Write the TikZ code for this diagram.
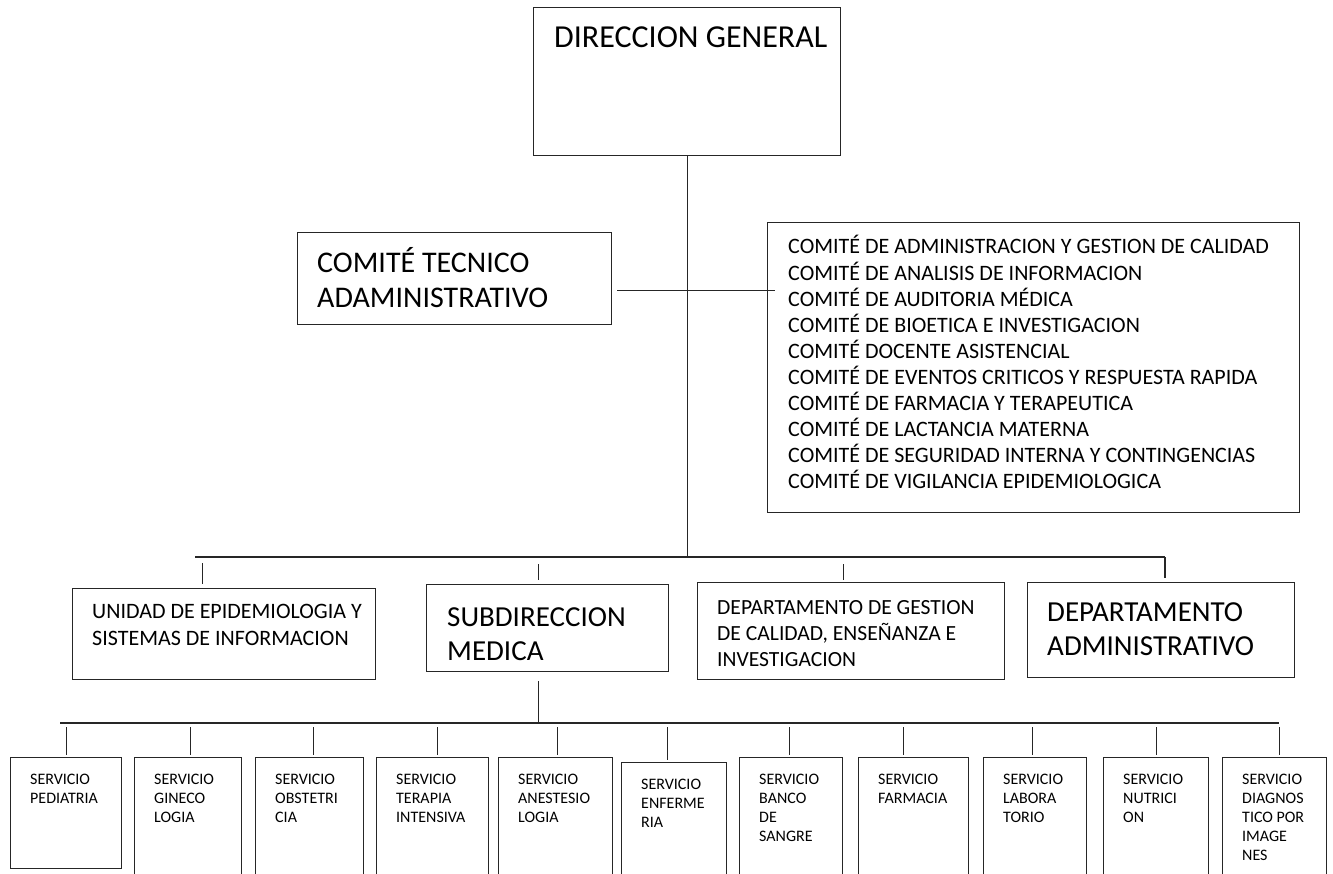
\documentclass[tikz,border=0pt]{standalone}
\usepackage{fontspec}
\setmainfont{Carlito}

\tikzset{
	box/.style={draw=black!85, line width=1.1pt, inner sep=0pt, anchor=north west},
	lbl/.style={anchor=north west, inner sep=0pt, align=left},
	link/.style={draw=black!85, line width=1.1pt}
}

\begin{document}
\begin{tikzpicture}[x=1pt, y=-1pt]
		\useasboundingbox (0,0) rectangle (1333,873);
		
		% direccion y comites
		\node[box, minimum width=307pt, minimum height=148pt] (dir) at (533,7) {};
		\node[lbl, font=\fontsize{32}{38}\selectfont] (dir-t) at ([shift={(21,14)}]dir.north west) {\strut DIRECCION GENERAL};
		
		\node[box, minimum width=314pt, minimum height=92pt] (cta) at (297,232) {};
		\node[lbl, font=\fontsize{30}{35}\selectfont] (cta-t) at ([shift={(20,15)}]cta.north west)
			{\strut COMITÉ TECNICO\\ADAMINISTRATIVO};
		
		\node[box, minimum width=532pt, minimum height=290pt] (com) at (767,222) {};
		\node[lbl, font=\fontsize{22}{26}\selectfont] (com-t) at ([shift={(21,13)}]com.north west)
			{\strut COMITÉ DE ADMINISTRACION Y GESTION DE CALIDAD\\
			COMITÉ DE ANALISIS DE INFORMACION\\
			COMITÉ DE AUDITORIA MÉDICA\\
			COMITÉ DE BIOETICA E INVESTIGACION\\
			COMITÉ DOCENTE ASISTENCIAL\\
			COMITÉ DE EVENTOS CRITICOS Y RESPUESTA RAPIDA\\
			COMITÉ DE FARMACIA Y TERAPEUTICA\\
			COMITÉ DE LACTANCIA MATERNA\\
			COMITÉ DE SEGURIDAD INTERNA Y CONTINGENCIAS\\
			COMITÉ DE VIGILANCIA EPIDEMIOLOGICA};
		
		% segundo nivel
		\node[box, minimum width=303pt, minimum height=91pt] (uni) at (72,588) {};
		\node[lbl, font=\fontsize{22}{27}\selectfont] (uni-t) at ([shift={(20,11)}]uni.north west)
			{\strut UNIDAD DE EPIDEMIOLOGIA Y\\SISTEMAS DE INFORMACION};
		\node[box, minimum width=242pt, minimum height=87pt] (sub) at (426,584) {};
		\node[lbl, font=\fontsize{29}{34}\selectfont] (sub-t) at ([shift={(21,18.5)}]sub.north west)
			{\strut SUBDIRECCION\\MEDICA};
		\node[box, minimum width=307pt, minimum height=97pt] (dge) at (697,582) {};
		\node[lbl, font=\fontsize{21.6}{26}\selectfont] (dge-t) at ([shift={(20,13.6)}]dge.north west)
			{\strut DEPARTAMENTO DE GESTION\\DE CALIDAD, ENSEÑANZA E\\INVESTIGACION};
		\node[box, minimum width=267pt, minimum height=95pt] (dad) at (1027,582) {};
		\node[lbl, font=\fontsize{29}{34}\selectfont] (dad-t) at ([shift={(20,15)}]dad.north west)
			{\strut DEPARTAMENTO\\ADMINISTRATIVO};
		
		\coordinate (busA-l) at (195,557);
		\coordinate (busA-r) at (1165,557);
		\coordinate (busB-l) at (60,723);
		\coordinate (busB-r) at (1279,723);
		
		\draw[link] (dir.south) -- (dir.south |- busA-l);
		\draw[link, shorten <=5pt, shorten >=-8pt] ([yshift=-12pt]cta.east) -- ([yshift=-12pt]cta.east -| com.west);
		\draw[link] (busA-l) -- (busA-r);
		\draw[link, shorten <=6pt, shorten >=4pt] ([xshift=-21.5pt]uni.north |- busA-l) -- ([xshift=-21.5pt]uni.north);
		\draw[link, shorten <=7pt, shorten >=4pt] ([xshift=-9pt]sub.north |- busA-l) -- ([xshift=-9pt]sub.north);
		\draw[link, shorten <=7pt, shorten >=2pt] ([xshift=-7.5pt]dge.north |- busA-l) -- ([xshift=-7.5pt]dge.north);
		\draw[link, shorten >=4pt] (busA-r) -- (busA-r |- dad.north);
		
		% servicios
		\draw[link, shorten <=9pt] ([xshift=-9pt]sub.south) -- ([xshift=-9pt]sub.south |- busB-l);
		\draw[link] (busB-l) -- (busB-r);
		\foreach \nm/\lx/\ty/\bw/\bh/\dx/\txt in {
			ped/10/757/111/111/0.5/{SERVICIO\\PEDIATRIA},
			gin/134/757/107/140/2.5/{SERVICIO\\GINECO\\LOGIA},
			obs/255/757/108/140/4/{SERVICIO\\OBSTETRI\\CIA},
			ter/376/757/112/140/5/{SERVICIO\\TERAPIA\\INTENSIVA},
			ane/498/757/114/140/2/{SERVICIO\\ANESTESIO\\LOGIA},
			enf/621/762/105/140/-6.5/{SERVICIO\\ENFERME\\RIA},
			ban/739/757/103/140/-1.5/{SERVICIO\\BANCO\\DE\\SANGRE},
			far/858/757/110/140/-10/{SERVICIO\\FARMACIA},
			lab/983/757/103/140/-2.5/{SERVICIO\\LABORA\\TORIO},
			nut/1103/757/105/140/0.5/{SERVICIO\\NUTRICI\\ON},
			dia/1222/757/104/140/5/{SERVICIO\\DIAGNOS\\TICO POR\\IMAGE\\NES}} {
			\node[box, minimum width=\bw pt, minimum height=\bh pt] (\nm) at (\lx,\ty) {};
			\node[lbl, font=\fontsize{16}{19}\selectfont] (\nm-t) at ([shift={(20,14)}]\nm.north west) {\strut\txt};
			\draw[link, shorten <=4pt, shorten >=2pt] ([xshift=\dx pt]\nm.north |- busB-l) -- ([xshift=\dx pt]\nm.north);
		}
\end{tikzpicture}
\end{document}
